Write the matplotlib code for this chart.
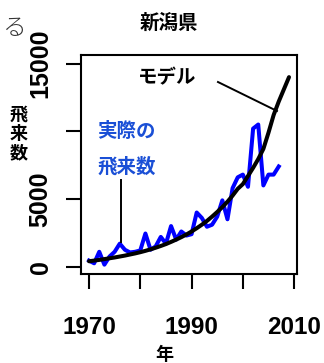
import matplotlib
matplotlib.use("Agg")
import matplotlib.pyplot as plt

plt.rcParams['font.family'] = ['Liberation Sans', 'Noto Sans CJK JP', 'DejaVu Sans']

# observed counts (blue), 1970-2007
obs_years = list(range(1970, 2008))
obs_counts = [450, 250, 1100, 150, 750, 1100, 1700, 1250, 1050, 1100,
              1200, 2450, 1250, 1500, 2200, 1700, 3000, 2000, 2600, 2300,
              2400, 4000, 3600, 2950, 3100, 3700, 4900, 3500, 5800, 6600,
              6800, 5900, 10200, 10500, 6000, 6800, 6800, 7400]

# model curve (black), 1970-2009
model_years = list(range(1970, 2010))
model_counts = [400, 450, 500, 560, 620, 680, 750, 820, 900, 980,
                1070, 1170, 1280, 1400, 1530, 1670, 1830, 2000, 2180, 2380,
                2600, 2840, 3100, 3380, 3700, 4040, 4400, 4800, 5250, 5750,
                6100, 6700, 7300, 7950, 8700, 9900, 11200, 12200, 13100, 14000]

x_ticks = [1970, 1980, 1990, 2000, 2010]
x_labels = ['1970', '', '1990', '', '2010']
y_ticks = [0, 5000, 10000, 15000]
y_labels = ['0', '5000', '', '15000']

fig = plt.figure(figsize=(3.24, 3.63), dpi=100)
ax = fig.add_axes([0.25, 0.2452, 0.6667, 0.6033])

ax.plot(obs_years, obs_counts, color='#0000ff', lw=2.9, solid_joinstyle='round')
ax.plot(model_years, model_counts, color='black', lw=2.9, solid_capstyle='round')

ax.set_xlim(1968.44, 2010.56)
ax.set_ylim(-540, 15635)

ax.set_xticks(x_ticks)
ax.set_xticklabels(x_labels, fontsize=17.5, fontweight='bold')
ax.set_yticks(y_ticks)
ax.set_yticklabels(y_labels, fontsize=18, fontweight='bold', rotation=90, va='center')
ax.tick_params(axis='x', length=11, width=1.5, pad=19)
ax.tick_params(axis='y', length=10.5, width=1.5, pad=10)
for s in ax.spines.values():
    s.set_linewidth(1.5)

cjk = ['Noto Sans CJK JP', 'DejaVu Sans']

# annotations
ax.text(1985.2, 13940, 'モデル', fontsize=14, fontweight='bold', family=cjk,
        ha='center', va='center')
ax.plot([1995.15, 2006.65], [13640, 11500], color='black', lw=1.4)

ax.text(1977.2, 9950, '実際の', fontsize=14, fontweight='bold', family=cjk,
        color='#1a4fd6', ha='center', va='center')
ax.text(1977.3, 7360, '飛来数', fontsize=14, fontweight='bold', family=cjk,
        color='#1a4fd6', ha='center', va='center')
ax.plot([1976.3, 1976.3], [6400, 1820], color='black', lw=1.4)

fig.text(169 / 324, 1 - 23 / 363, '新潟県', fontsize=14, fontweight='bold',
         family=cjk, ha='center', va='center')
fig.text(164 / 324, 1 - 354 / 363, '年', fontsize=13, fontweight='bold',
         family=cjk, ha='center', va='center')
fig.text(19 / 324, 1 - 134 / 363, '飛\n来\n数', fontsize=13, fontweight='bold',
         family=cjk, ha='center', va='center', linespacing=1.0)
fig.text(15 / 324, 1 - 28 / 363, 'る', fontsize=17, fontweight='light',
         family=cjk, color='#333333', ha='center', va='center')

fig.savefig('out.png', dpi=100)
